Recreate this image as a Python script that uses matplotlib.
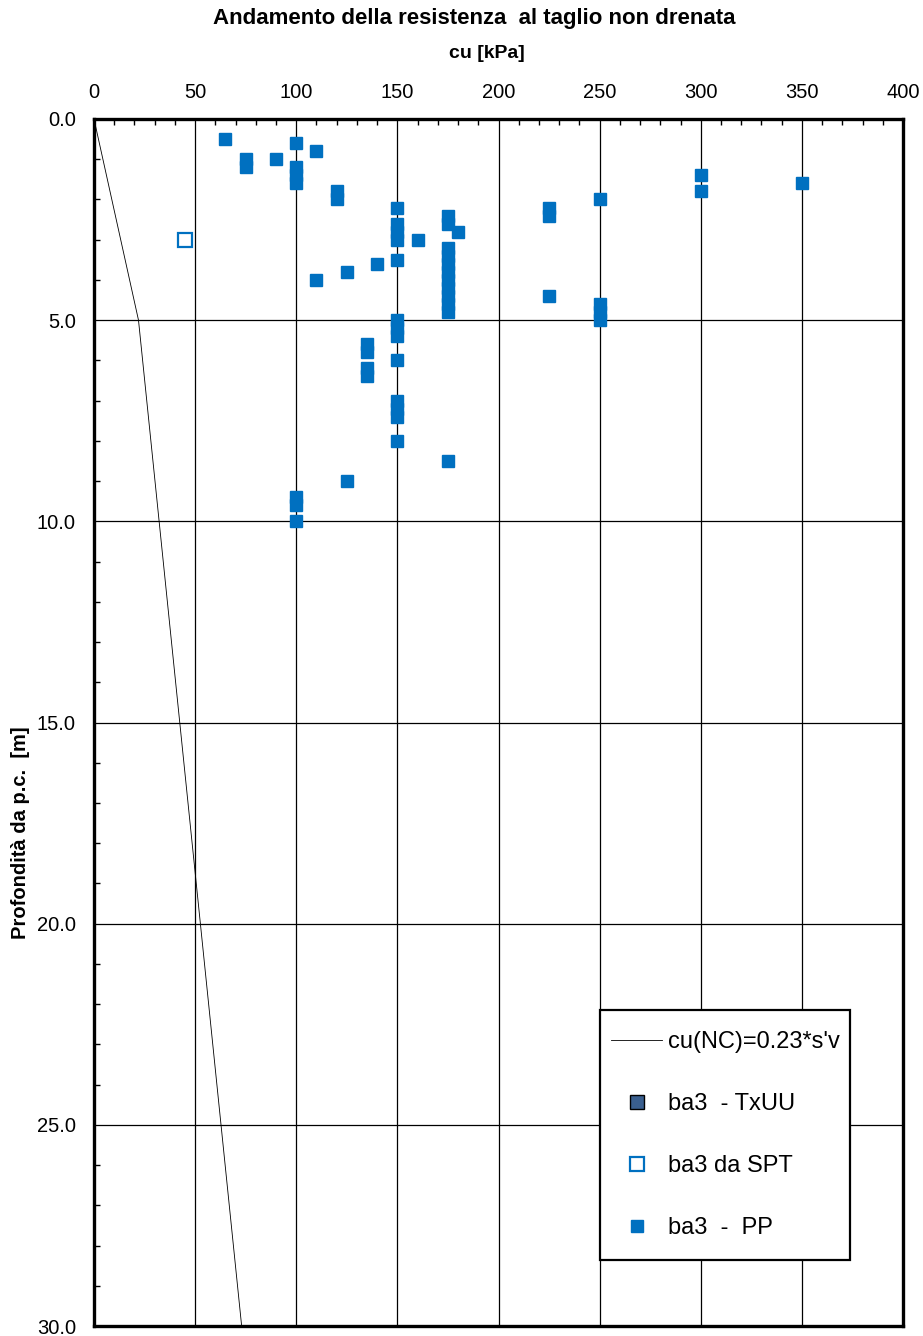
import numpy as np
import matplotlib
matplotlib.use('Agg')
import matplotlib.pyplot as plt
from matplotlib.patches import Rectangle
from matplotlib.ticker import MultipleLocator, FormatStrFormatter

plt.rcParams['font.family'] = ['Liberation Sans', 'DejaVu Sans']

# cu(NC) reference line
nc_cu    = [0, 22, 73]
nc_depth = [0, 5.0, 30.0]

# ba3 - TxUU (no data shown)
txuu_cu    = []
txuu_depth = []

# ba3 da SPT
spt_cu    = [45]
spt_depth = [3.0]

# ba3 - PP
pp_cu = [65, 75, 75, 90, 100, 100, 100, 100, 110, 120, 120,
         150, 150, 150, 150, 150, 160, 175, 175, 180,
         175, 175, 175, 175, 175, 175, 175, 175, 175,
         110, 125, 140,
         225, 225, 225, 250, 250, 250, 250,
         300, 300, 350,
         150, 150, 150, 150, 135, 135, 135, 135,
         150, 150, 150, 150, 175, 125, 100, 100, 100]
pp_depth = [0.5, 1.0, 1.2, 1.0, 0.6, 1.2, 1.4, 1.6, 0.8, 1.8, 2.0,
            2.2, 2.6, 2.8, 3.0, 3.5, 3.0, 2.4, 2.6, 2.8,
            3.2, 3.4, 3.6, 3.8, 4.0, 4.2, 4.4, 4.6, 4.8,
            4.0, 3.8, 3.6,
            2.2, 2.4, 4.4, 2.0, 4.6, 4.8, 5.0,
            1.4, 1.8, 1.6,
            5.0, 5.2, 5.4, 6.0, 5.6, 5.8, 6.2, 6.4,
            7.0, 7.2, 7.4, 8.0, 8.5, 9.0, 9.4, 9.6, 10.0]

BLUE = '#0070C0'
DARK = '#3A5F8F'
W, H = 923, 1336

#------------------------------------------------------------------------------
fig = plt.figure(figsize=(W/100, H/100), dpi=100)
ax = fig.add_axes([94/W, 1-1326/H, (903-94)/W, (1326-119)/H])

ax.plot(nc_cu, nc_depth, color='black', lw=0.6, label="cu(NC)=0.23*s'v", zorder=3)
ax.plot(txuu_cu, txuu_depth, ls='none', marker='s', ms=10, mfc=DARK, mec='black',
        mew=1.0, label='ba3  - TxUU')
ax.plot(spt_cu, spt_depth, ls='none', marker='s', ms=10, mfc='white', mec=BLUE,
        mew=1.6, label='ba3 da SPT', zorder=4)
ax.plot(pp_cu, pp_depth, ls='none', marker='s', ms=9.3, mfc=BLUE, mec=BLUE,
        mew=1.0, label='ba3  -  PP', zorder=4)

ax.set_xlim(0, 400)
ax.set_ylim(30, 0)
ax.xaxis.tick_top()
ax.xaxis.set_major_locator(MultipleLocator(50))
ax.xaxis.set_minor_locator(MultipleLocator(10))
ax.yaxis.set_major_locator(MultipleLocator(5))
ax.yaxis.set_minor_locator(MultipleLocator(1))
ax.yaxis.set_major_formatter(FormatStrFormatter('%.1f'))
ax.tick_params(which='both', direction='in', labelsize=14.5)
ax.tick_params(which='major', length=0)
ax.tick_params(which='minor', length=4, width=1)
ax.tick_params(axis='x', which='major', pad=12)
ax.tick_params(axis='y', which='major', pad=13)
ax.grid(True, which='major', color='black', lw=0.9)
for s in ax.spines.values():
  s.set_linewidth(2.4)

fig.text(21/W, 1-833/H, 'Profondità da p.c.  [m]', rotation=90, ha='center',
         va='center', fontsize=14.5, fontweight='bold')
fig.text(449/W, 1-58/H, 'cu [kPa]', ha='left', va='baseline',
         fontsize=14, fontweight='bold')
fig.text(213/W, 1-24/H, 'Andamento della resistenza  al taglio non drenata',
         ha='left', va='baseline', fontsize=16, fontweight='bold')

# legend frame drawn separately so its padding can follow the reference
frame = Rectangle((600/W, 1-1260/H), 250/W, 250/H, transform=fig.transFigure,
                  facecolor='white', edgecolor='black', lw=1.6, zorder=5)
fig.add_artist(frame)
handles, labels = ax.get_legend_handles_labels()
leg = fig.legend(handles, labels, loc='upper left', bbox_to_anchor=(611/W, 1-1031/H),
                 fontsize=17, frameon=False, labelspacing=1.7,
                 handlelength=2.16, handletextpad=0.25, borderpad=0,
                 borderaxespad=0)
leg.set_zorder(6)

fig.savefig('out.png', dpi=100)
